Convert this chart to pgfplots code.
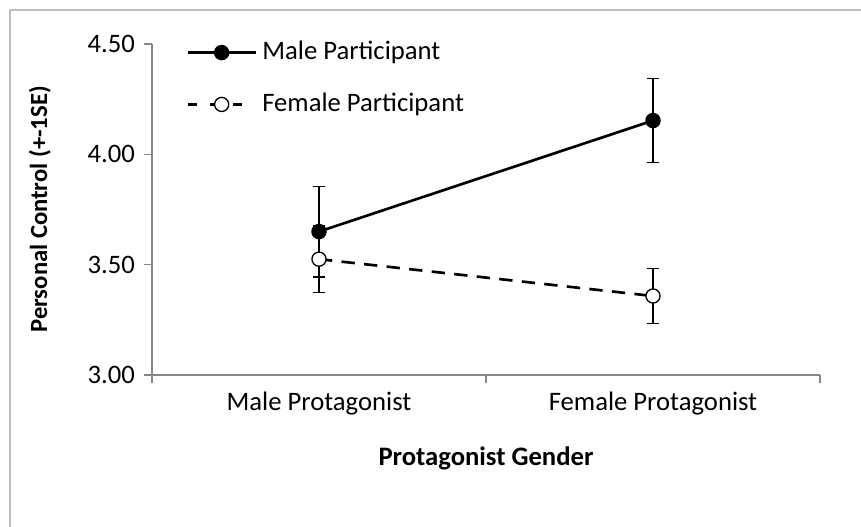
\documentclass[border=0pt]{standalone}
\usepackage{pgfplots}
\pgfplotsset{compat=1.18}
\usepackage{fontspec}
\setmainfont{Carlito}
\definecolor{axgray}{HTML}{868686}
\definecolor{framegray}{HTML}{BFBFBF}
\begin{document}
\fontsize{20}{24}\selectfont
\begin{tikzpicture}
\useasboundingbox (0pt,0pt) rectangle (645.75pt,394.5pt);
\draw[framegray, line width=1.2pt] (7.5pt,-15pt) rectangle (660pt,387pt);
\begin{axis}[
  at={(114pt,113.25pt)}, anchor=south west,
  scale only axis, width=501pt, height=248.25pt,
  xmin=0, xmax=2, ymin=3, ymax=4.5,
  axis x line*=bottom, axis y line*=left,
  axis line style={axgray, line width=1pt},
  xtick={0,1,2}, xticklabels={},
  extra x ticks={0.5,1.5},
  extra x tick labels={Male Protagonist, Female Protagonist},
  extra x tick style={major tick length=0pt},
  ytick={3,3.5,4,4.5},
  yticklabel style={/pgf/number format/.cd, fixed, fixed zerofill, precision=2},
  /pgf/number format/assume math mode=true,
  tick align=outside, major tick length=6pt,
  tick style={axgray, line width=1pt},
  every tick label/.append style={font=\fontsize{20}{24}\selectfont},
  xticklabel style={yshift=-6pt},
  xlabel={\textbf{Protagonist Gender}},
  ylabel={\textbf{Personal Control (+-1SE)}},
  xlabel style={font=\fontsize{20}{24}\selectfont, yshift=-4pt},
  ylabel style={font=\fontsize{18.5}{22}\selectfont, yshift=14pt},
  clip=false,
  legend style={at={(0.045,1.025)}, anchor=north west, draw=none, fill=none,
    row sep=18pt, font=\fontsize{20}{24}\selectfont,
    /tikz/every odd column/.append style={column sep=2pt}},
  legend cell align=left,
  legend image code/.code={\draw[mark repeat=2,mark phase=2,#1] plot coordinates {(0pt,0pt) (25.5pt,0pt) (51pt,0pt)};},
]
\addlegendimage{black, line width=2pt, mark=*, mark size=5.3pt, mark options={solid, fill=black, line width=1pt}}
\addlegendentry{Male Participant}
\addlegendimage{black, line width=2pt, dash pattern=on 7pt off 10pt, mark=*, mark size=5.3pt, mark options={solid, fill=white, line width=1pt}}
\addlegendentry{Female Participant}
% error bars first
\addplot[draw=none, mark=none, forget plot,
  error bars/.cd, y dir=both, y explicit,
  error bar style={draw=black, solid, line width=1.1pt},
  error mark options={draw=black, solid, line width=1.1pt, mark size=4.5pt, rotate=90}]
  coordinates {(0.5,3.65) +- (0,0.205) (1.5,4.153) +- (0,0.19)};
\addplot[draw=none, mark=none, forget plot,
  error bars/.cd, y dir=both, y explicit,
  error bar style={draw=black, solid, line width=1.1pt},
  error mark options={draw=black, solid, line width=1.1pt, mark size=4.5pt, rotate=90}]
  coordinates {(0.5,3.525) +- (0,0.15) (1.5,3.358) +- (0,0.125)};
% lines and markers
\addplot[forget plot, black, line width=2pt, dash pattern=on 10pt off 7pt, mark=*, mark size=5.3pt, mark options={solid, fill=white, line width=1pt}]
  coordinates {(0.5,3.525) (1.5,3.358)};
\addplot[forget plot, black, line width=2pt, mark=*, mark size=5.3pt, mark options={solid, fill=black, line width=1pt}]
  coordinates {(0.5,3.65) (1.5,4.153)};
\end{axis}
\end{tikzpicture}
\end{document}
